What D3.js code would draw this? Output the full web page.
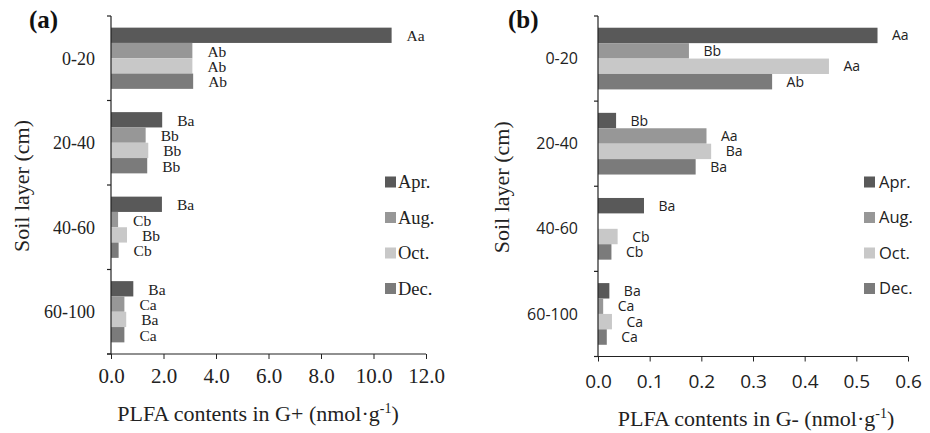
<!DOCTYPE html>
<html>
<meta charset="utf-8">
<script src="https://d3js.org/d3.v7.min.js"></script>
<head>
<style>
body { margin: 0; background: #fff; }
svg { display: block; }
</style>
</head>
<body>
<div id="chart"></div>
<script>

// soil layers and sampling months
var layers = ["0-20", "20-40", "40-60", "60-100"];
var seasons = ["Apr.", "Aug.", "Oct.", "Dec."];
var colors = ["#595959", "#979797", "#c8c8c8", "#7b7b7b"];

// (a) G+ PLFA contents
var gPlusApr = [10.69, 1.95, 1.94, 0.85];
var gPlusAug = [3.10, 1.32, 0.27, 0.51];
var gPlusOct = [3.10, 1.42, 0.61, 0.58];
var gPlusDec = [3.13, 1.38, 0.29, 0.51];
var gPlusLetters = [["Aa", "Ba", "Ba", "Ba"],
                    ["Ab", "Bb", "Cb", "Ca"],
                    ["Ab", "Bb", "Bb", "Ba"],
                    ["Ab", "Bb", "Cb", "Ca"]];
var gPlusTicks = [0, 2, 4, 6, 8, 10, 12];

// (b) G- PLFA contents (no Aug. bar in 40-60)
var gMinusApr = [0.541, 0.035, 0.089, 0.022];
var gMinusAug = [0.176, 0.210, null, 0.010];
var gMinusOct = [0.447, 0.219, 0.038, 0.027];
var gMinusDec = [0.337, 0.189, 0.026, 0.017];
var gMinusLetters = [["Aa", "Bb", "Ba", "Ba"],
                     ["Bb", "Aa", "", "Ca"],
                     ["Aa", "Ba", "Cb", "Ca"],
                     ["Ab", "Ba", "Cb", "Ca"]];
var gMinusTicks = [0, 0.1, 0.2, 0.3, 0.4, 0.5, 0.6];

var serif = "'Liberation Serif', 'Times New Roman', serif";
var sans = "'Open Sans', 'Noto Sans', sans-serif";

var svg = d3.select("#chart")
  .append("svg")
    .attr("width", 930)
    .attr("height", 433);

function drawPanel(p) {
  var g = svg.append("g");

  var x = d3.scaleLinear().domain([0, p.xmax]).range([p.left, p.right]);
  var y = d3.scaleBand().domain(layers).range([p.top, p.bottom]);
  var y1 = d3.scaleBand().domain(seasons).range([0, y.bandwidth()])
    .paddingOuter(0.76);

  // bars + letters
  p.series.forEach(function(vals, si) {
    vals.forEach(function(v, li) {
      if (v == null) return;
      var y0 = y(layers[li]) + y1(seasons[si]);
      g.append("rect")
        .attr("x", x(0))
        .attr("y", y0)
        .attr("width", x(v) - x(0))
        .attr("height", y1.bandwidth())
        .attr("fill", colors[si]);
      g.append("text")
        .attr("x", x(v) + p.labelGap)
        .attr("y", y0 + y1.bandwidth() / 2 + p.labelDy)
        .style("font-family", p.font)
        .style("font-size", p.labelSize)
        .style("fill", "#222")
        .text(p.letters[si][li]);
    });
  });

  // x axis
  var xAxis = d3.axisBottom(x)
    .tickValues(p.ticks)
    .tickSize(5)
    .tickFormat(d3.format(".1f"));
  var gx = g.append("g")
    .attr("transform", "translate(0," + p.bottom + ")")
    .call(xAxis);
  gx.select(".domain").attr("d", "M" + (p.left - 4) + ",0H" + p.right);
  gx.selectAll("line").attr("stroke", "#222");
  gx.selectAll("text")
    .attr("y", p.tickDy)
    .attr("dy", 0)
    .style("font-family", p.font)
    .style("font-size", p.tickSize)
    .style("fill", "#222");
  gx.select(".domain").attr("stroke", "#222").attr("stroke-width", 1.2);

  // y axis line with ticks at layer boundaries
  var bounds = layers.map(function(d) { return y(d); }).concat([p.bottom]);
  g.append("line")
    .attr("x1", p.left).attr("x2", p.left)
    .attr("y1", p.top).attr("y2", p.bottom)
    .attr("stroke", "#222").attr("stroke-width", 1.2);
  g.selectAll(".ytick")
    .data(bounds)
    .enter()
    .append("line")
      .attr("x1", p.left - 4).attr("x2", p.left)
      .attr("y1", function(d) { return d; })
      .attr("y2", function(d) { return d; })
      .attr("stroke", "#222").attr("stroke-width", 1.2);

  g.selectAll(".ylabel")
    .data(layers)
    .enter()
    .append("text")
      .attr("x", p.left - p.catGap)
      .attr("y", function(d) { return y(d) + y.bandwidth() / 2; })
      .attr("dy", "0.35em")
      .attr("text-anchor", "end")
      .style("font-family", p.font)
      .style("font-size", p.catSize)
      .style("fill", "#222")
      .text(function(d) { return d; });

  // axis titles
  g.append("text")
    .attr("transform", "translate(" + p.yTitleX + "," + ((p.top + p.bottom) / 2 + 1) + ") rotate(-90)")
    .attr("text-anchor", "middle")
    .style("font-family", serif)
    .style("font-size", "22px")
    .style("fill", "#222")
    .text("Soil layer (cm)");

  var t = g.append("text")
    .attr("x", p.xTitleX)
    .attr("y", p.xTitleY)
    .attr("text-anchor", "middle")
    .style("font-family", serif)
    .style("font-size", "22px")
    .style("fill", "#222");
  t.append("tspan").text(p.xTitle + " (nmol·g");
  t.append("tspan").attr("dy", -8).style("font-size", "14px").text("-1");
  t.append("tspan").attr("dy", 8).text(")");

  // panel label
  g.append("text")
    .attr("x", p.tagX)
    .attr("y", 28)
    .style("font-family", serif)
    .style("font-size", "25px")
    .style("font-weight", "bold")
    .style("fill", "#111")
    .text(p.tag);

  // legend
  seasons.forEach(function(s, i) {
    var cy = 182 + i * 35.5;
    g.append("rect")
      .attr("x", p.legX)
      .attr("y", cy - 5.5)
      .attr("width", 11)
      .attr("height", 11)
      .attr("fill", colors[i]);
    g.append("text")
      .attr("x", p.legX + p.legGap)
      .attr("y", cy)
      .attr("dy", "0.35em")
      .style("font-family", p.font)
      .style("font-size", p.legSize)
      .style("fill", "#222")
      .text(s);
  });
}

drawPanel({
  tag: "(a)", tagX: 29,
  left: 111, right: 426, top: 16, bottom: 354,
  xmax: 12, ticks: gPlusTicks,
  series: [gPlusApr, gPlusAug, gPlusOct, gPlusDec],
  letters: gPlusLetters,
  font: serif, labelSize: "15.5px", labelGap: 15, labelDy: 6,
  tickSize: "21px", tickDy: 29, catSize: "18px", catGap: 16,
  legSize: "18.5px", legX: 385, legGap: 13,
  yTitleX: 29, xTitle: "PLFA contents in G+", xTitleX: 258, xTitleY: 421
});

drawPanel({
  tag: "(b)", tagX: 508,
  left: 598, right: 908, top: 16, bottom: 356.5,
  xmax: 0.6, ticks: gMinusTicks,
  series: [gMinusApr, gMinusAug, gMinusOct, gMinusDec],
  letters: gMinusLetters,
  font: sans, labelSize: "14px", labelGap: 14.5, labelDy: 5,
  tickSize: "19px", tickDy: 31, catSize: "16px", catGap: 20,
  legSize: "16.5px", legX: 864, legGap: 15,
  yTitleX: 509, xTitle: "PLFA contents in G-", xTitleX: 756, xTitleY: 426
});

</script>
</body>
</html>
